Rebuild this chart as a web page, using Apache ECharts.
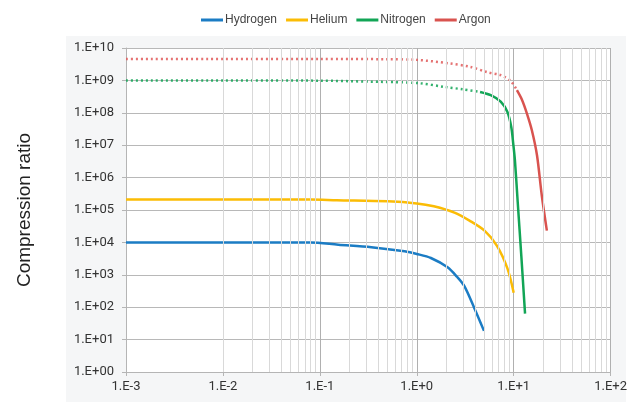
<!DOCTYPE html>
<html>
<head>
<meta charset="utf-8">
<script src="https://cdn.jsdelivr.net/npm/echarts@6/dist/echarts.min.js"></script>
<style>html,body{margin:0;padding:0;background:#fff}#c{width:630px;height:402px}</style>
</head>
<body>
<div id="c"></div>
<script>
// ---- data ----
const seriesNames = ['Hydrogen', 'Helium', 'Nitrogen', 'Argon'];
const xTickLabels = ['1.E-3', '1.E-2', '1.E-1', '1.E+0', '1.E+1', '1.E+2'];
const yTickLabels = ['1.E+00','1.E+01','1.E+02','1.E+03','1.E+04','1.E+05','1.E+06','1.E+07','1.E+08','1.E+09','1.E+10'];

const hydrogenX = [0.001, 0.01, 0.08, 0.155, 0.34, 0.75, 1, 1.4, 2.08, 2.6, 3.08, 3.9, 4.94];
const hydrogenY = [1e4, 1e4, 1e4, 8.5e3, 7.1e3, 5.3e3, 4.4e3, 3.3e3, 1.7e3, 870, 460, 98, 18.6];

const heliumX = [0.001, 0.01, 0.08, 0.15, 0.5, 1, 1.5, 2.45, 3.5, 5, 6.7, 8.6, 10];
const heliumY = [2.1e5, 2.1e5, 2.1e5, 2.0e5, 1.85e5, 1.6e5, 1.3e5, 8.3e4, 4.7e4, 2.3e4, 8e3, 1.6e3, 280];

const nitrogenDotX = [0.001, 0.01, 0.1, 0.3, 1, 2, 3, 4.5];
const nitrogenDotY = [1e9, 1e9, 9.8e8, 9.2e8, 8.3e8, 6.2e8, 5.3e8, 4.4e8];
const nitrogenX = [4.5, 5.8, 7.35, 8.6, 9.45, 9.9, 10.3, 11, 12, 13.1];
const nitrogenY = [4.4e8, 3.5e8, 2.2e8, 1.07e8, 3.6e7, 1.1e7, 3.4e6, 1.8e5, 3.7e3, 63];

const argonDotX = [0.001, 0.01, 0.1, 0.5, 1, 2.1, 3.6, 5.3, 7.35, 9.2, 10.8];
const argonDotY = [4.6e9, 4.6e9, 4.6e9, 4.5e9, 4.3e9, 3.4e9, 2.6e9, 1.8e9, 1.45e9, 1e9, 5e8];
const argonX = [10.8, 12.2, 13.7, 15.4, 17.4, 19.5, 22];
const argonY = [5e8, 2.5e8, 9.5e7, 2.9e7, 4.9e6, 2.8e5, 2.3e4];

const minorDecades = [0.001, 0.01, 0.1, 1, 10];
const minorMultipliers = [2, 3, 4, 5, 6, 7, 8, 9];

const colors = ['#1b7cc4', '#fbbc05', '#12a556', '#d9534f'];

const zip = (xs, ys) => xs.map((x, i) => [x, ys[i]]);
const expIndex = (v, lo) => Math.round(Math.log10(v)) - lo;

const minorLines = [];
minorDecades.forEach(d => minorMultipliers.forEach(m => minorLines.push({ xAxis: +(d * m).toPrecision(3) })));

const solid = (name, data, color) => ({
  name, type: 'line', data, symbol: 'none', smooth: 0.3,
  lineStyle: { color, width: 2.5 }, itemStyle: { color }, z: 3
});
const dotted = (name, data, color) => ({
  name, type: 'line', data, symbol: 'none', smooth: 0.3,
  lineStyle: { color, width: 2.5, type: [2, 3], opacity: 0.85 }, itemStyle: { color }, z: 3
});

const chart = echarts.init(document.getElementById('c'), null, { renderer: 'canvas' });
chart.setOption({
  animation: false,
  backgroundColor: '#ffffff',
  graphic: [{
    type: 'rect', z: -10, silent: true,
    shape: { x: 66, y: 36, width: 560, height: 366 },
    style: { fill: '#f5f6f7' }
  }],
  legend: {
    top: 9, left: 196,
    icon: 'rect',
    itemWidth: 22, itemHeight: 3, itemGap: 9,
    data: seriesNames,
    textStyle: { fontFamily: 'Liberation Sans', fontSize: 12, color: '#444', padding: [0, 0, 0, -3] }
  },
  grid: {
    left: 126, right: 15, top: 48, bottom: 30,
    show: true, backgroundColor: '#ffffff', borderWidth: 0
  },
  xAxis: {
    type: 'log', logBase: 10, min: 0.001, max: 100, interval: 1,
    axisLine: { show: true, lineStyle: { color: '#b5b5b5' } },
    axisTick: { show: true, length: 4, lineStyle: { color: '#b5b5b5' } },
    splitLine: { show: true, lineStyle: { color: '#b0b0b0', width: 1 } },
    axisLabel: {
      margin: 8, fontFamily: 'Roboto', fontSize: 13, color: '#333',
      formatter: v => xTickLabels[expIndex(v, -3)]
    }
  },
  yAxis: {
    type: 'log', logBase: 10, min: 1, max: 1e10, interval: 1,
    axisLine: { show: true, lineStyle: { color: '#b5b5b5' } },
    axisTick: { show: true, length: 4, lineStyle: { color: '#b5b5b5' } },
    splitLine: { show: true, lineStyle: { color: '#b8b8b8', width: 1 } },
    axisLabel: {
      margin: 12, fontFamily: 'Roboto', fontSize: 13, color: '#333',
      formatter: v => yTickLabels[expIndex(v, 0)]
    },
    name: 'Compression ratio', nameLocation: 'middle', nameGap: 92,
    nameTextStyle: { fontFamily: 'Liberation Sans', fontSize: 19, color: '#222' }
  },
  series: [
    solid(seriesNames[0], zip(hydrogenX, hydrogenY), colors[0]),
    solid(seriesNames[1], zip(heliumX, heliumY), colors[1]),
    solid(seriesNames[2], zip(nitrogenX, nitrogenY), colors[2]),
    solid(seriesNames[3], zip(argonX, argonY), colors[3]),
    dotted(seriesNames[2], zip(nitrogenDotX, nitrogenDotY), colors[2]),
    dotted(seriesNames[3], zip(argonDotX, argonDotY), '#e05a5a'),
    {
      name: 'grid-minor', type: 'line', data: [], silent: true, z: 1,
      markLine: {
        silent: true, symbol: 'none', animation: false,
        label: { show: false },
        lineStyle: { color: '#d9d9d9', width: 1, type: 'solid' },
        emphasis: { disabled: true },
        data: minorLines
      }
    }
  ]
});
</script>
</body>
</html>
